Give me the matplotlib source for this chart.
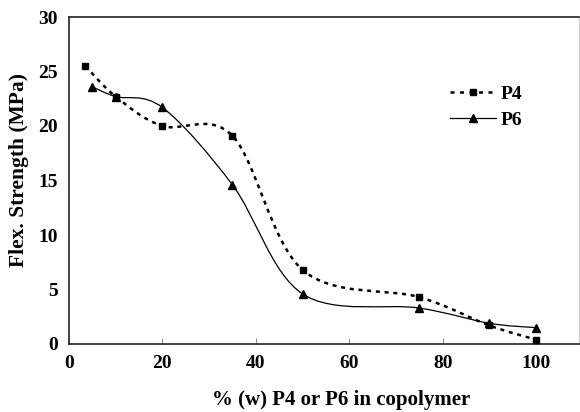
import numpy as np
import matplotlib.pyplot as plt
from matplotlib.path import Path
from matplotlib.patches import PathPatch
from matplotlib.lines import Line2D

plt.rcParams['font.family'] = ['Liberation Serif', 'DejaVu Serif']
plt.rcParams['font.weight'] = 'bold'

# flexural strength vs. weight fraction of P4 / P6 in the copolymer
p4_x = [3.5, 10, 20, 35, 50, 75, 90, 100]
p4_y = [25.5, 22.7, 20.0, 19.1, 6.8, 4.3, 1.7, 0.4]
p6_x = [5, 10, 20, 35, 50, 75, 90, 100]
p6_y = [23.6, 22.7, 21.7, 14.6, 4.6, 3.3, 1.9, 1.5]


def smooth_path(x, y):
    """Bezier path through the points, spreadsheet-style smoothing."""
    pts = np.column_stack([x, y]).astype(float)
    n = len(pts)
    verts = [pts[0]]
    codes = [Path.MOVETO]
    for i in range(n - 1):
        p0 = pts[i - 1] if i > 0 else pts[i]
        p1 = pts[i]
        p2 = pts[i + 1]
        p3 = pts[i + 2] if i + 2 < n else pts[i + 1]
        c1 = p1 + (p2 - p0) / 6.0
        c2 = p2 - (p3 - p1) / 6.0
        verts += [c1, c2, p2]
        codes += [Path.CURVE4] * 3
    return Path(verts, codes)


fig = plt.figure(figsize=(5.8, 4.12), dpi=100)
ax = fig.add_axes([69 / 580, 1 - 344 / 412, 510 / 580, 327 / 412])

ax.add_patch(PathPatch(smooth_path(p4_x, p4_y), fill=False, color='black',
                       lw=1.8, linestyle=(0, (1.6, 1.9))))
ax.add_patch(PathPatch(smooth_path(p6_x, p6_y), fill=False, color='black',
                       lw=0.9))
ax.plot(p4_x, p4_y, 's', color='black', ms=5, zorder=3)
ax.plot(p6_x, p6_y, '^', color='black', ms=6, zorder=3)

ax.set_xlim(0, 109.2)
ax.set_ylim(0, 30)
ax.set_xticks([0, 20, 40, 60, 80, 100])
ax.set_yticks([0, 5, 10, 15, 20, 25, 30])
ax.tick_params(axis='x', direction='in', length=4, width=0.6, colors='#777',
               labelcolor='black', labelsize=14, pad=8)
ax.tick_params(axis='y', length=0, labelsize=14, pad=8)
for lab in ax.get_xticklabels() + ax.get_yticklabels():
    lab.set_fontweight('bold')

for side in ['left', 'bottom', 'top']:
    ax.spines[side].set_color('#222')
    ax.spines[side].set_linewidth(1.2)
ax.spines['right'].set_color('#ccc')
ax.spines['right'].set_linewidth(0.8)

# axis titles placed in figure coordinates
fig.text(341 / 580, 1 - 405 / 412, '% (w) P4 or P6 in copolymer',
         fontsize=15, fontweight='bold', ha='center', va='baseline')
fig.text(19 / 580, 1 - 170 / 412, 'Flex. Strength (MPa)', rotation=90,
         fontsize=15.5, fontweight='bold', ha='center', va='center')

handles = [
    Line2D([], [], color='black', lw=1.8, linestyle=(0, (1.6, 2.2)),
           marker='s', ms=4.5),
    Line2D([], [], color='black', lw=0.9, marker='^', ms=5.5),
]
leg = ax.legend(handles, ['P4', 'P6'], loc='upper left',
                bbox_to_anchor=(0.712, 0.845), frameon=False,
                prop={'weight': 'bold', 'size': 14}, handlelength=2.4,
                handletextpad=0.2, labelspacing=0.45)

fig.savefig('out.png', dpi=100)
